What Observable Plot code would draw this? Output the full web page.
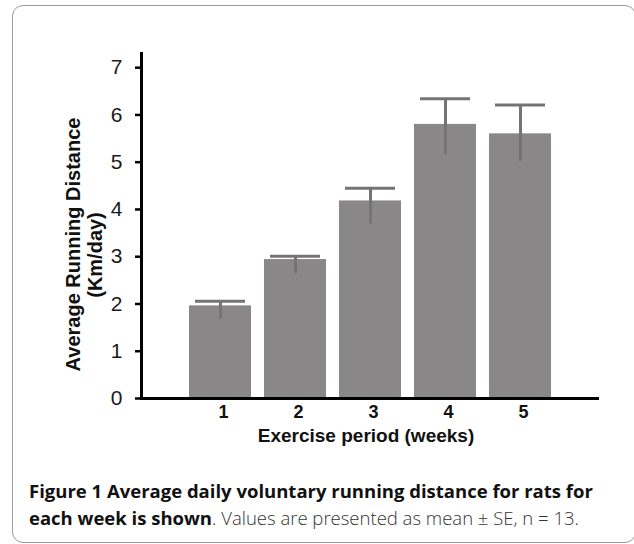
<!DOCTYPE html>
<html>
<head>
<meta charset="utf-8">
<script src="https://cdn.jsdelivr.net/npm/d3@7"></script>
<script src="https://cdn.jsdelivr.net/npm/@observablehq/plot@0.6"></script>
<style>
  html, body { margin: 0; padding: 0; background: #fff; overflow: hidden; width: 634px; height: 544px; }
  #box { position: absolute; left: 12px; top: 5px; width: 624px; height: 538px; border: 1px solid #9a9a9a; border-radius: 11px; box-sizing: border-box; }
  #chart { position: absolute; left: 0; top: 0; }
  #caption { position: absolute; left: 29px; top: 478px; width: 600px; font-family: "Open Sans", Lato, sans-serif; font-size: 18.5px; line-height: 26.5px; color: #333; white-space: nowrap; }
  #caption b { font-weight: 700; color: #111; }
  #caption span { font-weight: 300; }
</style>
</head>
<body>
<div id="box"></div>
<div id="chart"></div>
<div id="caption"><b>Figure 1 Average daily voluntary running distance for rats for</b><br><b>each week is shown</b><span>. Values are presented as mean ± SE, n = 13.</span></div>
<script>
const weeks = ["1", "2", "3", "4", "5"];
const meanKm = [1.96, 2.94, 4.18, 5.80, 5.60];
const upperKm = [2.06, 3.01, 4.45, 6.34, 6.21];
const lowerKm = [1.68, 2.64, 3.69, 5.16, 5.02];
const yTicks = [0, 1, 2, 3, 4, 5, 6, 7];

const data = weeks.map((w, i) => ({week: w, mean: meanKm[i], hi: upperKm[i], lo: lowerKm[i]}));
const font = "'Liberation Sans', Arial, sans-serif";

const chart = Plot.plot({
  width: 634,
  height: 460,
  marginTop: 53,
  marginBottom: 62,
  marginLeft: 141,
  marginRight: 37,
  style: {fontFamily: font, background: "transparent", overflow: "visible"},
  x: {domain: weeks, range: [187, 552], paddingInner: 0.175, paddingOuter: 0, axis: null},
  y: {domain: [0, 7.3], axis: null},
  marks: [
    Plot.barY(data, {x: "week", y: "mean", fill: "#898788"}),
    Plot.ruleX(data, {x: "week", y1: "lo", y2: "hi", stroke: "#747474", strokeWidth: 3}),
    Plot.tickY(data, {x: "week", y: "hi", stroke: "#747474", strokeWidth: 3, insetLeft: 6, insetRight: 6}),
    Plot.frame({anchor: "left", stroke: "#000", strokeWidth: 3}),
    Plot.frame({anchor: "bottom", stroke: "#000", strokeWidth: 3}),
    Plot.axisY({ticks: yTicks, tickSize: 6, tickPadding: 13, strokeWidth: 2.5, stroke: "#000", fontSize: 21, fill: "#1a1a1a", label: null, tickFormat: d => String(d)}),
    Plot.axisX({tickSize: 0, tickPadding: 7, fontSize: 18, fontWeight: "bold", fill: "#111", label: null, dx: 3}),
    Plot.text(["Exercise period (weeks)"], {frameAnchor: "bottom", dy: 43, dx: -3.5, fontSize: 19, fontWeight: "bold", fill: "#111"}),
    Plot.text(["Average Running Distance"], {frameAnchor: "left", textAnchor: "middle", rotate: -90, dx: -68, dy: 18.5, fontSize: 20, fontWeight: "bold", fill: "#111"}),
    Plot.text(["(Km/day)"], {frameAnchor: "left", textAnchor: "middle", rotate: -90, dx: -46, dy: 29, fontSize: 20, fontWeight: "bold", fill: "#111"})
  ]
});
document.getElementById("chart").appendChild(chart);
</script>
</body>
</html>
